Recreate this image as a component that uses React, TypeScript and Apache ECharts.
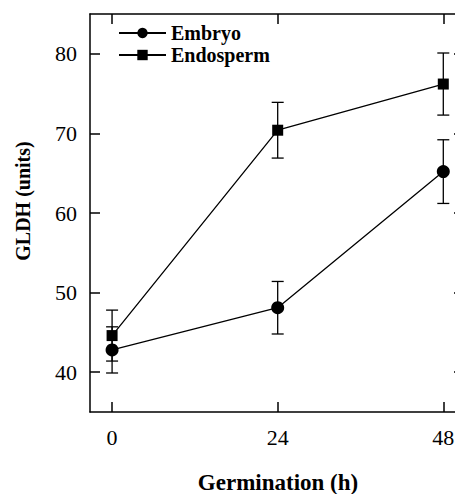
import React, { useEffect, useRef } from "react";
import * as echarts from "echarts";

const hours = [0, 24, 48];
const embryo = [42.8, 48.1, 65.2];
const embryoErr = [2.9, 3.3, 4.0];
const endosperm = [44.6, 70.4, 76.2];
const endospermErr = [3.2, 3.5, 3.9];
const xTicks = [0, 24, 48];
const yTicks = [40, 50, 60, 70, 80];

const FONT = "Liberation Serif";

export default function App() {
  const ref = useRef<HTMLDivElement>(null);
  useEffect(() => {
    if (!ref.current) return;
    const chart = echarts.init(ref.current, undefined, { renderer: "svg" });
    const errData = (vals: number[], errs: number[]) =>
      hours.map((h, i) => [h, vals[i] - errs[i], vals[i] + errs[i]]);
    const renderErr = (params: any, api: any) => {
      const x = api.value(0);
      const lo = api.coord([x, api.value(1)]);
      const hi = api.coord([x, api.value(2)]);
      const w = 6;
      const st = { stroke: "#000", lineWidth: 1.3 };
      return {
        type: "group",
        children: [
          { type: "line", shape: { x1: hi[0], y1: hi[1], x2: lo[0], y2: lo[1] }, style: st },
          { type: "line", shape: { x1: hi[0] - w, y1: hi[1], x2: hi[0] + w, y2: hi[1] }, style: st },
          { type: "line", shape: { x1: lo[0] - w, y1: lo[1], x2: lo[0] + w, y2: lo[1] }, style: st },
        ],
      };
    };
    const axisLine = { show: true, onZero: false, lineStyle: { color: "#000", width: 1.5 } };
    const tickStyle = { color: "#000", width: 1.5 };
    chart.setOption({
      animation: false,
      backgroundColor: "#fff",
      grid: { left: 90, top: 14, right: 6, bottom: 82 },
      legend: {
        orient: "vertical",
        left: 113,
        top: 18,
        itemWidth: 47,
        itemHeight: 13,
        itemGap: 2,
        data: ["Embryo", "Endosperm"],
        textStyle: { fontFamily: FONT, fontWeight: "bold", fontSize: 20, color: "#000" },
      },
      xAxis: [
        {
          type: "value",
          min: -3.2,
          max: 51,
          position: "bottom",
          axisLine,
          splitLine: { show: false },
          axisTick: { inside: true, length: 10, customValues: xTicks, lineStyle: tickStyle },
          axisLabel: { customValues: xTicks, margin: 14, fontFamily: FONT, fontSize: 22, color: "#000" },
        },
        {
          type: "value",
          min: -3.2,
          max: 51,
          position: "top",
          axisLine,
          splitLine: { show: false },
          axisTick: { inside: true, length: 10, customValues: xTicks, lineStyle: tickStyle },
          axisLabel: { show: false },
        },
      ],
      yAxis: [
        {
          type: "value",
          min: 35,
          max: 85,
          position: "left",
          axisLine,
          splitLine: { show: false },
          axisTick: { inside: true, length: 10, customValues: yTicks, lineStyle: tickStyle },
          axisLabel: { customValues: yTicks, margin: 13, fontFamily: FONT, fontSize: 22, color: "#000" },
        },
        {
          type: "value",
          min: 35,
          max: 85,
          position: "right",
          axisLine,
          splitLine: { show: false },
          axisTick: { inside: true, length: 10, customValues: yTicks, lineStyle: tickStyle },
          axisLabel: { show: false },
        },
      ],
      graphic: [
        {
          type: "text",
          x: 23,
          y: 201,
          rotation: Math.PI / 2,
          style: {
            text: "GLDH (units)",
            align: "center",
            verticalAlign: "middle",
            fontFamily: FONT,
            fontWeight: "bold",
            fontSize: 20,
            fill: "#000",
          },
        },
        {
          type: "text",
          x: 278,
          y: 482,
          style: {
            text: "Germination (h)",
            align: "center",
            verticalAlign: "middle",
            fontFamily: FONT,
            fontWeight: "bold",
            fontSize: 23,
            fill: "#000",
          },
        },
      ],
      series: [
        {
          name: "EmbryoErr",
          type: "custom",
          renderItem: renderErr,
          encode: { x: 0, y: [1, 2] },
          data: errData(embryo, embryoErr),
          z: 1,
        },
        {
          name: "EndospermErr",
          type: "custom",
          renderItem: renderErr,
          encode: { x: 0, y: [1, 2] },
          data: errData(endosperm, endospermErr),
          z: 1,
        },
        {
          name: "Embryo",
          type: "line",
          data: hours.map((h, i) => [h, embryo[i]]),
          symbol: "circle",
          symbolSize: 13,
          lineStyle: { color: "#000", width: 1.3 },
          itemStyle: { color: "#000" },
          z: 3,
        },
        {
          name: "Endosperm",
          type: "line",
          data: hours.map((h, i) => [h, endosperm[i]]),
          symbol: "rect",
          symbolSize: 11,
          lineStyle: { color: "#000", width: 1.3 },
          itemStyle: { color: "#000" },
          z: 3,
        },
      ],
    });
    return () => chart.dispose();
  }, []);
  return (
    <div style={{ position: "fixed", left: 0, top: 0, width: 455, height: 494, overflow: "hidden", background: "#fff" }}>
      <div ref={ref} style={{ width: 470, height: 494 }} />
    </div>
  );
}
